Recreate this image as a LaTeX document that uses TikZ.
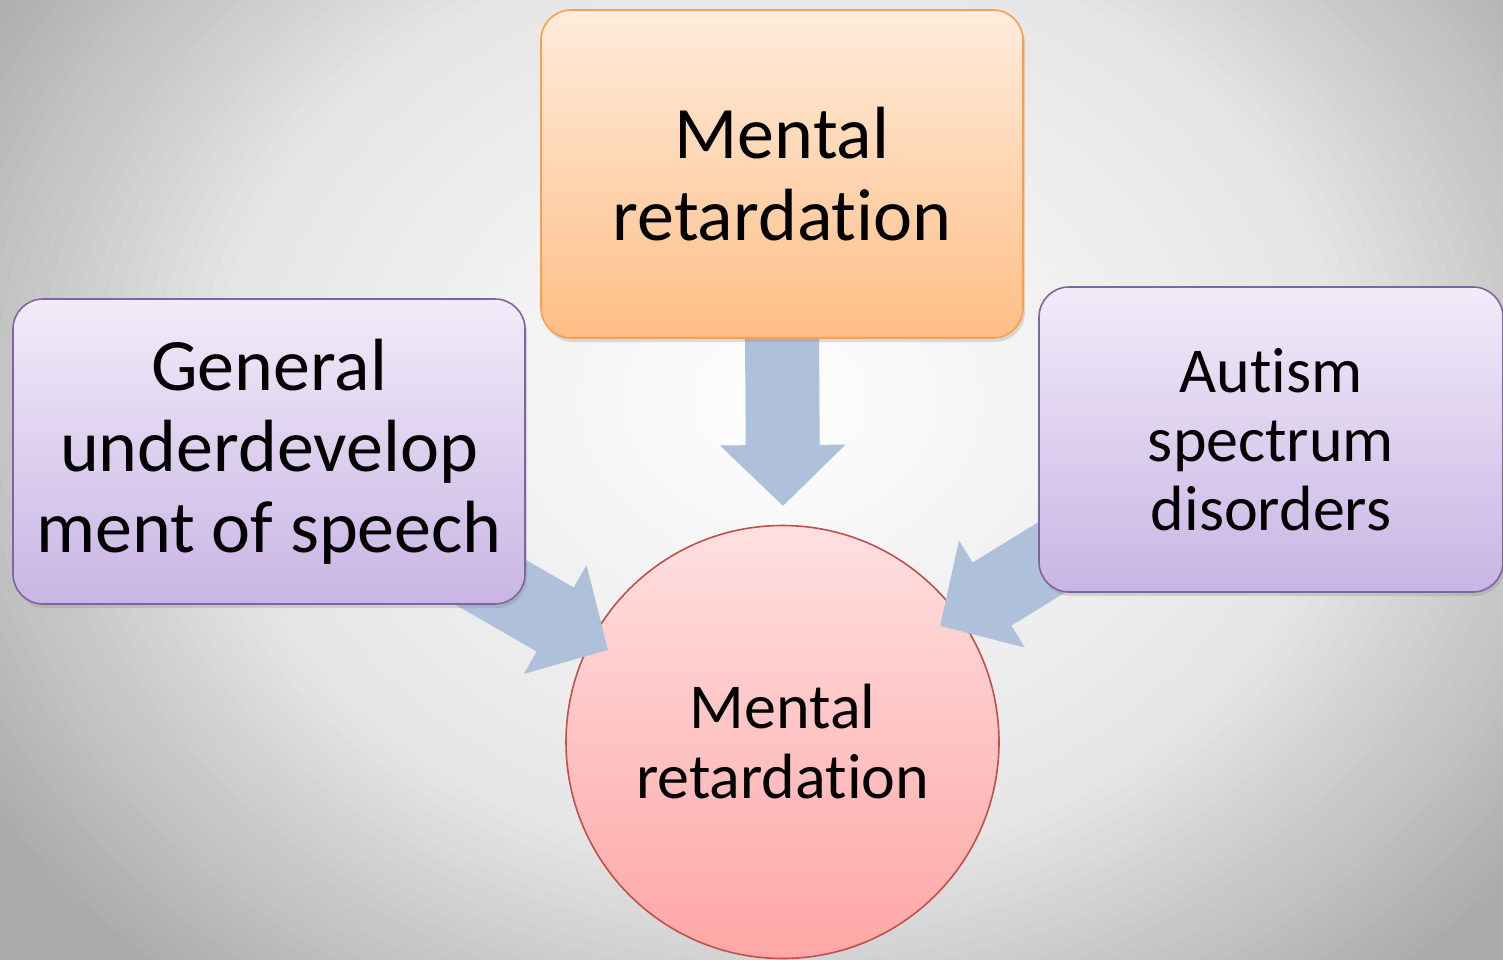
\documentclass[tikz,border=0pt]{standalone}
\usepackage{fontspec}
\setmainfont[Ligatures=NoCommon]{Carlito}
\usetikzlibrary{arrows.meta,shadows}
\definecolor{arrowblue}{RGB}{175,192,218}
\definecolor{orangetop}{RGB}{255,236,220}
\definecolor{orangebot}{RGB}{255,190,134}
\definecolor{orangeline}{RGB}{248,160,80}
\definecolor{lilactop}{RGB}{241,235,249}
\definecolor{lilacbot}{RGB}{201,181,228}
\definecolor{lilacline}{RGB}{128,100,162}
\definecolor{pinktop}{RGB}{255,224,224}
\definecolor{pinkbot}{RGB}{255,166,166}
\definecolor{pinkline}{RGB}{192,80,77}
\pgfdeclarelayer{bg}
\pgfdeclarelayer{circ}
\pgfdeclarelayer{arr}
\pgfsetlayers{bg,circ,arr,main}
\begin{document}
\begin{tikzpicture}[x=1pt, y=-1pt,
    box/.style = {draw, rounded corners=30pt, line width=1.6pt, align=center, inner sep=0pt,
                  drop shadow={opacity=0.25, shadow xshift=2pt, shadow yshift=-4pt}},
    cause/.style = {box, top color=lilactop, bottom color=lilacbot, draw=lilacline},
    conn/.style = {arrowblue, line width=74pt, -{Triangle[width=122pt, length=61pt]}}]
    \useasboundingbox (0,0) rectangle (1503,960);

    % background
    \begin{pgfonlayer}{bg}
    \begin{scope}
    \clip (0,0) rectangle (1503,960);
    \fill[white!66.7!black] (0,0) rectangle (1503,960);
    \foreach \i in {0,...,79} {
        \pgfmathsetmacro\r{1.2*(1-\i/80)}
        \pgfmathsetmacro\v{\r<=0.6 ? 255-43.3*\r : max(170,229-147.5*(\r-0.6))}
        \pgfmathsetmacro\p{\v/2.55}
        \fill[white!\p!black] (780,400) ellipse ({\r*950} and {\r*780});
    }
    \end{scope}
    \end{pgfonlayer}

    % nodes
    \begin{pgfonlayer}{circ}
    \node[circle, draw=pinkline, line width=1.6pt, top color=pinktop, bottom color=pinkbot,
          minimum size=433pt, inner sep=0pt, align=center,
          font=\fontsize{64}{70}\selectfont] (c) at (782.5,742) {Mental\\retardation};
    \end{pgfonlayer}
    \node[box, top color=orangetop, bottom color=orangebot, draw=orangeline,
          minimum width=482pt, minimum height=328pt,
          font=\fontsize{74}{82}\selectfont] (top) at (782,174) {Mental\\retardation};
    \node[cause, minimum width=512pt, minimum height=305pt,
          font=\fontsize{74}{81}\selectfont] (left) at (269,451.5) {General\\underdevelop\\ment of speech};
    \node[cause, minimum width=464pt, minimum height=305pt,
          font=\fontsize{64}{69}\selectfont] (right) at (1271,439.5) {Autism\\spectrum\\disorders};

    % arrows
    \coordinate (t0) at (783,506);
    \coordinate (s1) at (400,530);
    \coordinate (t1) at (608,650);
    \coordinate (s2) at (1153,495);
    \coordinate (t2) at (940,626);
    \begin{pgfonlayer}{arr}
    \draw[conn] ([yshift=10pt]top.south) -- (t0);
    \draw[conn] (s1) -- (t1);
    \draw[conn] (s2) -- (t2);
    \end{pgfonlayer}

\end{tikzpicture}
\end{document}
